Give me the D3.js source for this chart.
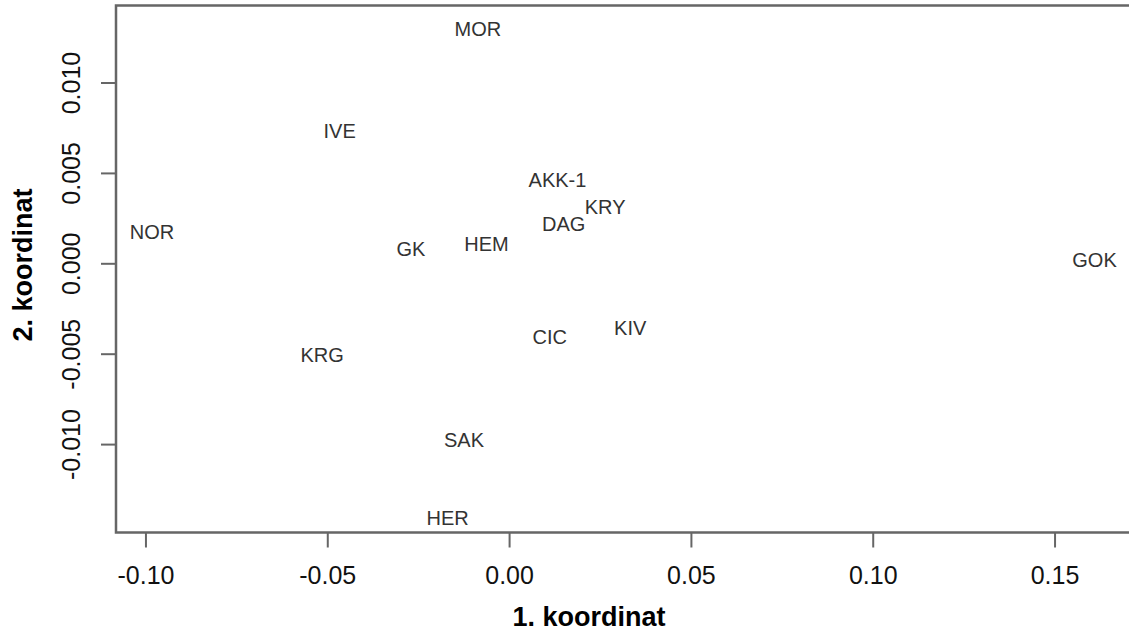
<!DOCTYPE html>
<html>
<head>
<meta charset="utf-8">
<script src="https://cdn.jsdelivr.net/npm/d3@7"></script>
<style>
  html, body { margin: 0; padding: 0; background: #fff; }
  svg { display: block; }
</style>
</head>
<body>
<svg id="chart" width="1129" height="634"></svg>
<script>
// MDS coordinates per population
const labels = ["MOR", "IVE", "AKK-1", "KRY", "DAG", "NOR", "GK", "HEM", "GOK", "KIV", "CIC", "KRG", "SAK", "HER"];
const coord1 = [-0.0086, -0.0466, 0.0133, 0.0264, 0.0150, -0.0982, -0.0270, -0.0062, 0.1610, 0.0333, 0.0112, -0.0514, -0.0124, -0.0169];
const coord2 = [0.01297, 0.00731, 0.00460, 0.00312, 0.00220, 0.00176, 0.00080, 0.00110, 0.00019, -0.00357, -0.00407, -0.00504, -0.00978, -0.01406];

const xTicks = [-0.10, -0.05, 0.00, 0.05, 0.10, 0.15];
const yTicks = [-0.010, -0.005, 0.000, 0.005, 0.010];

const svg = d3.select("#chart");
const plotLeft = 116, plotRight = 1128, plotTop = 5.5, plotBottom = 532.5;

const x = d3.scaleLinear().domain([-0.1081, 0.1702]).range([plotLeft, plotRight]);
const y = d3.scaleLinear().domain([-0.01489, 0.01426]).range([plotBottom, plotTop]);

const axisColor = "#666";
const font = "Arial, 'Liberation Sans', Helvetica, sans-serif";
const fmt = f => d => d3.format(f)(d).replace("\u2212", "-");

// plot frame (right side runs past the edge)
svg.append("path")
  .attr("d", `M${plotRight + 10},${plotTop}H${plotLeft}V${plotBottom}H${plotRight + 10}`)
  .attr("fill", "none")
  .attr("stroke", axisColor)
  .attr("stroke-width", 2.5);

// x axis
const xAxis = svg.append("g")
  .attr("transform", `translate(0,${plotBottom})`)
  .call(d3.axisBottom(x).tickValues(xTicks).tickSize(15).tickPadding(19)
    .tickFormat(fmt(".2f")));
xAxis.select(".domain").remove();
xAxis.selectAll(".tick line").attr("stroke", axisColor).attr("stroke-width", 2);
xAxis.selectAll(".tick text")
  .attr("fill", "#111").attr("font-size", 25).attr("font-family", font);

// y axis
const yAxis = svg.append("g")
  .attr("transform", `translate(${plotLeft},0)`)
  .call(d3.axisLeft(y).tickValues(yTicks).tickSize(15));
yAxis.select(".domain").remove();
yAxis.selectAll(".tick line").attr("stroke", axisColor).attr("stroke-width", 2);
yAxis.selectAll(".tick text").remove();
yAxis.selectAll(".tick").append("text")
  .attr("transform", "translate(-45,0) rotate(-90)")
  .attr("text-anchor", "middle")
  .attr("dy", "0.35em")
  .attr("fill", "#111").attr("font-size", 25).attr("font-family", font)
  .text(fmt(".3f"));

// axis titles
svg.append("text")
  .attr("x", 589).attr("y", 626)
  .attr("text-anchor", "middle")
  .attr("font-size", 27).attr("font-weight", "bold").attr("font-family", font)
  .attr("fill", "#000")
  .text("1. koordinat");

svg.append("text")
  .attr("transform", "translate(32,265) rotate(-90)")
  .attr("text-anchor", "middle")
  .attr("font-size", 27).attr("font-weight", "bold").attr("font-family", font)
  .attr("fill", "#000")
  .text("2. koordinat");

// population labels
svg.append("g").selectAll("text")
  .data(labels.map((l, i) => ({ l, a: coord1[i], b: coord2[i] })))
  .join("text")
  .attr("x", d => x(d.a))
  .attr("y", d => y(d.b))
  .attr("dy", "0.36em")
  .attr("text-anchor", "middle")
  .attr("font-size", 20).attr("font-family", font)
  .attr("fill", "#333")
  .text(d => d.l);
</script>
</body>
</html>
